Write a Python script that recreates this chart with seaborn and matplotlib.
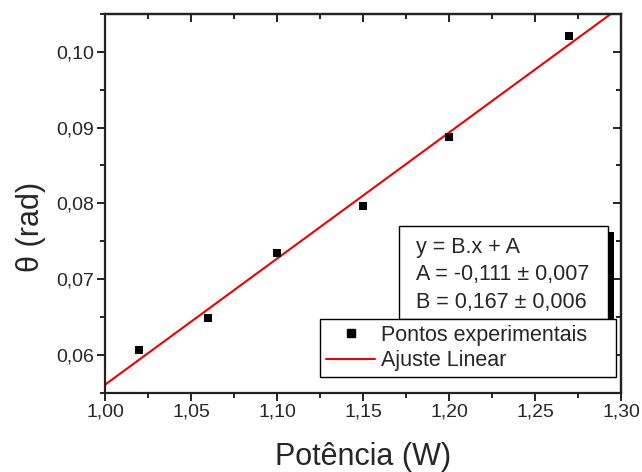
import numpy as np
import pandas as pd
import seaborn as sns
import matplotlib.pyplot as plt
from matplotlib.ticker import MultipleLocator, FuncFormatter
from matplotlib.lines import Line2D
from matplotlib.patches import Rectangle
import matplotlib.patheffects as pe

# Measured deflection angle vs. power
potencia = [1.02, 1.06, 1.10, 1.15, 1.20, 1.27]
theta = [0.0607, 0.0648, 0.0735, 0.0797, 0.0887, 0.1021]

# Linear fit parameters (y = B.x + A)
fit_A = -0.111
fit_B = 0.167
fit_A_err = 0.007
fit_B_err = 0.006

x_limits = (1.00, 1.30)
y_limits = (0.055, 0.105)

sns.set_style("ticks")
plt.rcParams["font.family"] = ["Liberation Sans", "DejaVu Sans"]

fig = plt.figure(figsize=(6.42, 4.72), dpi=100)
ax = fig.add_axes([0.1636, 0.168, 0.8037, 0.8023])

df = pd.DataFrame({"x": potencia, "y": theta})

# Fitted line across the full x range
coef = np.polyfit(potencia, theta, 1)
x_line = np.linspace(x_limits[0], x_limits[1], 50)
fit_df = pd.DataFrame({"x": x_line, "y": np.polyval(coef, x_line)})
sns.lineplot(data=fit_df, x="x", y="y", color="#f00000", linewidth=1.5, ax=ax, zorder=2)

sns.scatterplot(data=df, x="x", y="y", marker="s", s=30, color="black",
                linewidth=0, ax=ax, zorder=3)

ax.set_xlim(*x_limits)
ax.set_ylim(*y_limits)

comma = FuncFormatter(lambda v, p: f"{v:.2f}".replace(".", ","))
ax.xaxis.set_major_locator(MultipleLocator(0.05))
ax.xaxis.set_minor_locator(MultipleLocator(0.025))
ax.yaxis.set_major_locator(MultipleLocator(0.01))
ax.yaxis.set_minor_locator(MultipleLocator(0.005))
ax.xaxis.set_major_formatter(comma)
ax.yaxis.set_major_formatter(comma)

for s in ax.spines.values():
    s.set_linewidth(1.6)
    s.set_color("#222222")
    s.set_visible(True)

ax.tick_params(which="major", direction="out", length=6, width=1.4,
               labelsize=14, color="#222222")
ax.tick_params(axis="x", which="major", pad=1.5)
ax.tick_params(axis="y", which="major", pad=2)
ax.tick_params(which="minor", direction="out", length=3.5, width=1.4, color="#222222")

# Inward ticks on the top and right edges
top = ax.secondary_xaxis("top")
right = ax.secondary_yaxis("right")
for sec, axis, major, minor in ((top, top.xaxis, 0.05, 0.025),
                                (right, right.yaxis, 0.01, 0.005)):
    axis.set_major_locator(MultipleLocator(major))
    axis.set_minor_locator(MultipleLocator(minor))
    sec.tick_params(which="major", direction="in", length=6, width=1.4,
                    labelsize=0, color="#222222")
    sec.tick_params(which="minor", direction="in", length=3.5, width=1.4,
                    color="#222222")
    axis.set_major_formatter(FuncFormatter(lambda v, p: ""))
    for s in sec.spines.values():
        s.set_linewidth(1.6)
        s.set_color("#222222")

ax.set_xlabel("Potência (W)", fontsize=22)
ax.set_ylabel("θ (rad)", fontsize=22)
ax.xaxis.set_label_coords(0.5, -0.13)
ax.yaxis.set_label_coords(-0.114, 0.439)

# Fit result box with drop shadow
box = Rectangle((0.5698, 0.1946), 0.405, 0.2456, transform=ax.transAxes,
                fc="white", ec="black", lw=1.0, zorder=5)
box.set_path_effects([pe.SimplePatchShadow(offset=(4.5, -4.5), shadow_rgbFace="black",
                                           alpha=1.0), pe.Normal()])
ax.add_patch(box)

fmt = lambda v: f"{v:.3f}".replace(".", ",")
fit_text = (f"y = B.x + A\n"
            f"A = {fmt(fit_A)} ± {fmt(fit_A_err)}\n"
            f"B = {fmt(fit_B)} ± {fmt(fit_B_err)}")
ax.text(0.6027, 0.411, fit_text, transform=ax.transAxes, fontsize=15.5,
        ha="left", va="top", linespacing=1.4, zorder=6)

handles = [
    Line2D([], [], marker="s", linestyle="none", color="black", markersize=5.2),
    Line2D([], [], color="#f00000", linewidth=1.5),
]
leg = ax.legend(handles, ["Pontos experimentais", "Ajuste Linear"],
                loc="lower left", bbox_to_anchor=(0.4167, 0.0415, 0.5736, 0.1),
                mode="expand", fontsize=15.5,
                frameon=True, fancybox=False, edgecolor="black", framealpha=1,
                borderpad=0.27, labelspacing=0.2, handlelength=2.3,
                handletextpad=0.28, borderaxespad=0)
leg.get_frame().set_linewidth(1.0)
leg.set_zorder(7)

fig.savefig("out.png", dpi=100)
